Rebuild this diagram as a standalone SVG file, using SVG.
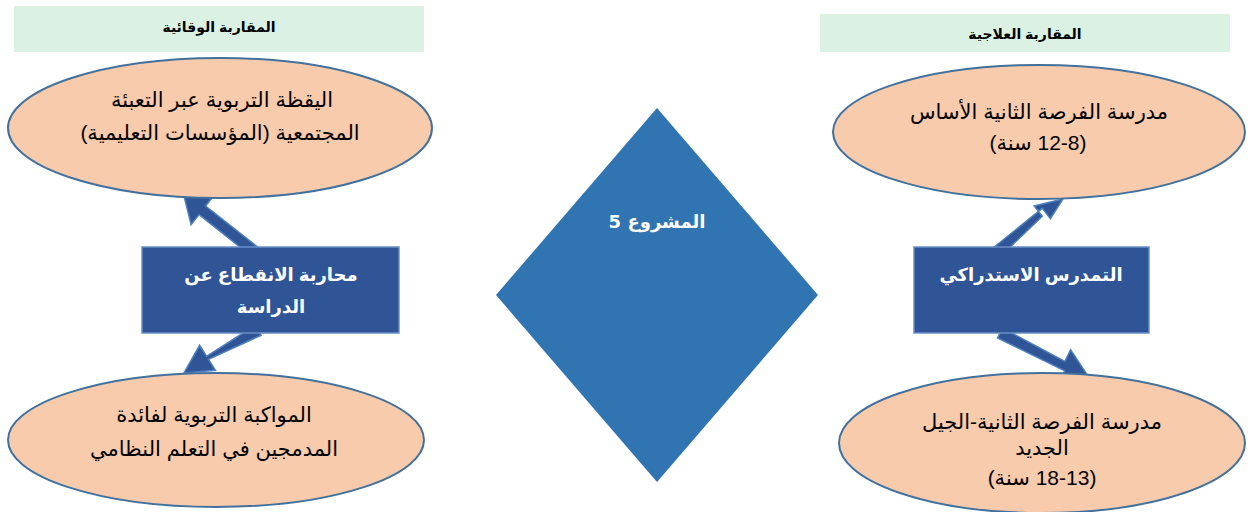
<svg xmlns="http://www.w3.org/2000/svg" width="1252" height="512" viewBox="0 0 1252 512">
<style>
.hdr{fill:#DBF1E3}
.hdrt{font-family:"Liberation Sans","DejaVu Sans",sans-serif;font-size:14px;font-weight:bold;fill:#000;text-anchor:middle;direction:rtl}
.ell{fill:#F8CBAD;stroke:#41719C;stroke-width:2}
.et{font-family:"Liberation Sans","DejaVu Sans",sans-serif;font-size:21px;fill:#000;text-anchor:middle;direction:rtl}
.box{fill:#2F5597;stroke:#6A8FC8;stroke-width:1.5}
.bt{font-family:"Liberation Sans","DejaVu Sans",sans-serif;font-size:18px;font-weight:bold;fill:#fff;text-anchor:middle;direction:rtl}
.arr{fill:#2F5597;stroke:#4F81BD;stroke-width:1.5;stroke-linejoin:miter}
.dia{fill:#3174B2}
.dt{font-family:"DejaVu Sans",sans-serif;font-size:18px;font-weight:bold;fill:#fff;text-anchor:middle;direction:rtl}
</style>
<g id="connectors">
<polygon class="arr" points="258.4,247.7 205.6,206.0 213.7,195.8 184,196 191.1,224.7 199.1,214.6 251.6,256.3"/>
<polygon class="arr" points="254.9,325.5 206.6,356.3 199.6,345.3 184,373 215.5,370.3 208.5,359.3 261.1,335.3"/>
<polygon class="arr" points="993.6,247.5 1042.3,208.4 1050.4,218.6 1063,199 1034.2,206.0 1042.3,216.2 1000.4,256.5"/>
<polygon class="arr" points="997.6,338.0 1064.8,370.8 1059.1,382.5 1088,376 1070.6,349.7 1064.9,361.4 1002.4,328.0"/>
</g>
<g id="header-left">
<rect class="hdr" x="14" y="6" width="410" height="46"/>
<text class="hdrt" x="219" y="32">المقاربة الوقائية</text>
</g>
<g id="header-right">
<rect class="hdr" x="820" y="14" width="410" height="38"/>
<text class="hdrt" x="1025" y="39">المقاربة العلاجية</text>
</g>
<g id="ellipse-left-top">
<ellipse class="ell" cx="220" cy="128" rx="212" ry="70"/>
<text class="et" x="222" y="107">اليقظة التربوية عبر التعبئة</text>
<text class="et" x="220" y="140">المجتمعية (المؤسسات التعليمية)</text>
</g>
<g id="ellipse-left-bottom">
<ellipse class="ell" cx="216" cy="440" rx="208" ry="67"/>
<text class="et" x="214" y="422">المواكبة التربوية لفائدة</text>
<text class="et" x="214" y="456">المدمجين في التعلم النظامي</text>
</g>
<g id="box-left">
<rect class="box" x="142" y="247" width="257" height="86"/>
<text class="bt" x="271" y="281">محاربة الانقطاع عن</text>
<text class="bt" x="271" y="313">الدراسة</text>
</g>
<g id="diamond">
<polygon class="dia" points="657,108 818,295 657,482 496,295"/>
<text class="dt" x="657" y="228">المشروع 5</text>
</g>
<g id="ellipse-right-top">
<ellipse class="ell" cx="1039" cy="132" rx="206" ry="67"/>
<text class="et" x="1039" y="119">مدرسة الفرصة الثانية الأساس</text>
<text class="et" x="1038" y="150">(8&#x200F;-&#x200F;12 سنة)</text>
</g>
<g id="box-right">
<rect class="box" x="914" y="247" width="235" height="86"/>
<text class="bt" x="1031" y="281">التمدرس الاستدراكي</text>
</g>
<g id="ellipse-right-bottom">
<ellipse class="ell" cx="1042" cy="443" rx="203" ry="70"/>
<text class="et" x="1042" y="429">مدرسة الفرصة الثانية-الجيل</text>
<text class="et" x="1042" y="455">الجديد</text>
<text class="et" x="1042" y="485">(13&#x200F;-&#x200F;18 سنة)</text>
</g>
</svg>
